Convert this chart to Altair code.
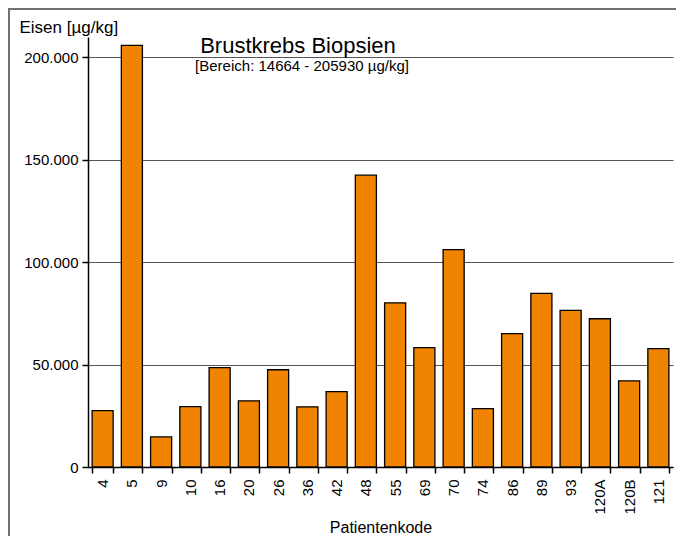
import altair as alt
import pandas as pd

patients = ["4", "5", "9", "10", "16", "20", "26", "36", "42", "48",
            "55", "69", "70", "74", "86", "89", "93", "120A", "120B", "121"]
iron = [27500, 205930, 14664, 29500, 48500, 32300, 47500, 29400, 36800, 142500,
        80200, 58300, 106200, 28500, 65100, 84800, 76500, 72400, 42100, 57800]
y_ticks = [0, 50000, 100000, 150000, 200000]

title_text = "Brustkrebs Biopsien"
subtitle_text = "[Bereich: 14664 - 205930 µg/kg]"

df = pd.DataFrame({"Patient": patients, "Eisen": iron})

W, H = 585, 430
PAD = {"left": 80, "top": 29, "right": 3, "bottom": 69}
FONT = "Liberation Sans"

one = pd.DataFrame({"a": [0]})
frame_left = alt.Chart(one).mark_rule(color="#707070", strokeWidth=2).encode(
    x=alt.value(-79), y=alt.value(-28), y2=alt.value(H + PAD["bottom"]))
frame_top = alt.Chart(one).mark_rule(color="#707070", strokeWidth=2).encode(
    x=alt.value(-80), x2=alt.value(W + PAD["right"]), y=alt.value(-28))

bars = alt.Chart(df).mark_bar(
    fill="#F08300", stroke="#000000", strokeWidth=1.3
).encode(
    x=alt.X("Patient:N", sort=None,
            scale=alt.Scale(paddingInner=0.28, paddingOuter=0.14),
            axis=alt.Axis(title="Patientenkode", labelAngle=270, tickBand="extent",
                          labelFont=FONT, labelFontSize=15, labelColor="#000",
                          labelPadding=6, tickSize=6, tickColor="#000", tickWidth=1.5,
                          domainColor="#000", domainWidth=1.5,
                          titleFont=FONT, titleFontSize=16, titleFontWeight="normal",
                          titleColor="#000", titleBaseline="alphabetic",
                          titleY=65)),
    y=alt.Y("Eisen:Q",
            scale=alt.Scale(domain=[0, 210000], nice=False, zero=True),
            axis=alt.Axis(title="Eisen [µg/kg]", values=y_ticks,
                          labelExpr="replace(format(datum.value, ','), ',', '.')",
                          labelFont=FONT, labelFontSize=15, labelColor="#000",
                          labelPadding=4, tickSize=6, tickColor="#000", tickWidth=1.5,
                          domainColor="#000", domainWidth=1.5,
                          grid=True, gridColor="#555555", gridWidth=1,
                          titleAngle=0, titleAlign="left", titleBaseline="alphabetic",
                          titleX=-69, titleY=-5,
                          titleFont=FONT, titleFontSize=17, titleFontWeight="normal",
                          titleColor="#000"))
)

title = alt.Chart(pd.DataFrame({"t": [title_text]})).mark_text(
    font=FONT, fontSize=22, color="#000", align="center", baseline="alphabetic"
).encode(x=alt.value(210), y=alt.value(16), text="t:N")

subtitle = alt.Chart(pd.DataFrame({"t": [subtitle_text]})).mark_text(
    font=FONT, fontSize=15, color="#000", align="center", baseline="alphabetic"
).encode(x=alt.value(214), y=alt.value(34), text="t:N")

chart = alt.layer(frame_left, frame_top, bars, title, subtitle).properties(
    width=W, height=H,
    autosize=alt.AutoSizeParams(type="none"),
    padding=PAD,
).configure_view(stroke=None)

chart.save("out.html", embed_options={"renderer": "svg", "actions": False})
